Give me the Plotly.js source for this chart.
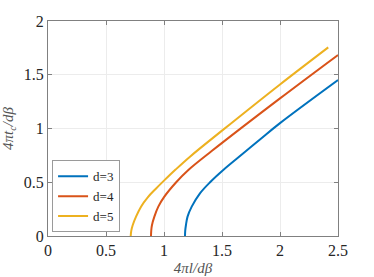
<!DOCTYPE html>
<html>
<head>
<meta charset="utf-8">
<script src="https://cdn.plot.ly/plotly-3.0.1.min.js"></script>
<style>
  body { margin: 0; background: #fff; }
  #chart { width: 374px; height: 277px; }
</style>
</head>
<body>
<div id="chart"></div>
<script>
// values
var seriesNames = ['d=3', 'd=4', 'd=5'];

var x_d3 = [1.181, 1.183, 1.189, 1.203, 1.239, 1.31, 1.397, 1.511, 1.684, 1.83, 2.0, 2.5];
var y_d3 = [0, 0.05, 0.1, 0.18, 0.273, 0.397, 0.5, 0.614, 0.769, 0.9, 1.05, 1.451];

var x_d4 = [0.888, 0.890, 0.896, 0.917, 0.951, 1.003, 1.105, 1.21, 1.411, 2.0, 2.5];
var y_d4 = [0, 0.05, 0.1, 0.18, 0.273, 0.366, 0.5, 0.614, 0.79, 1.28, 1.684];

var x_d5 = [0.713, 0.718, 0.73, 0.759, 0.802, 0.86, 0.93, 1.0, 1.10, 1.224, 1.5, 2.0, 2.416];
var y_d5 = [0, 0.05, 0.1, 0.18, 0.273, 0.36, 0.44, 0.515, 0.618, 0.738, 0.98, 1.41, 1.755];

var xTicks = [0, 0.5, 1, 1.5, 2, 2.5];
var xTickText = ['0', '0.5', '1', '1.5', '2', '2.5'];
var yTicks = [0, 0.5, 1, 1.5, 2];
var yTickText = ['0', '0.5', '1', '1.5', '2'];

var colors = ['#0072BD', '#D95319', '#EDB120'];
var xs = [x_d3, x_d4, x_d5];
var ys = [y_d3, y_d4, y_d5];

var data = [];
for (var i = 0; i < 3; i++) {
  data.push({
    x: xs[i],
    y: ys[i],
    type: 'scatter',
    mode: 'lines',
    name: seriesNames[i],
    line: {color: colors[i], width: 2, shape: 'spline', smoothing: 1}
  });
}

var serif = '"Times New Roman", "Liberation Serif", Times, serif';

var axisStyle = {
  showline: true,
  linecolor: '#808080',
  linewidth: 1,
  mirror: 'ticks',
  ticks: 'inside',
  ticklen: 4,
  tickcolor: '#808080',
  showgrid: true,
  gridcolor: '#ececec',
  zeroline: false,
  tickfont: {family: serif, size: 16, color: '#262626'}
};

var layout = {
  width: 374,
  height: 277,
  margin: {l: 48, r: 36, t: 21, b: 41},
  paper_bgcolor: '#ffffff',
  plot_bgcolor: '#ffffff',
  showlegend: true,
  legend: {
    x: 0.014, y: 0.017, xanchor: 'left', yanchor: 'bottom',
    bgcolor: '#ffffff', bordercolor: '#9a9a9a', borderwidth: 1,
    font: {family: serif, size: 13, color: '#262626'},
    tracegroupgap: 0, itemwidth: 30
  },
  xaxis: Object.assign({}, axisStyle, {
    range: [0, 2.5],
    tickvals: xTicks,
    ticktext: xTickText,
    title: {text: '<i>4πl/dβ</i>', font: {family: serif, size: 15, color: '#555555'}, standoff: 4}
  }),
  yaxis: Object.assign({}, axisStyle, {
    range: [0, 2],
    tickvals: yTicks,
    ticktext: yTickText,
    title: {text: '<i>4πt<sub>c</sub>/dβ</i>', font: {family: serif, size: 15, color: '#555555'}, standoff: 6}
  })
};

Plotly.newPlot('chart', data, layout, {displayModeBar: false, staticPlot: true});
</script>
</body>
</html>
